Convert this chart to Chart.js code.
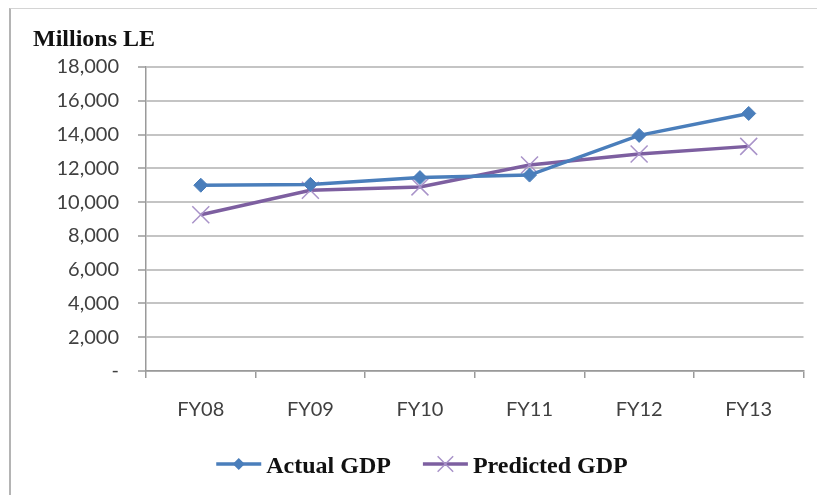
<!DOCTYPE html>
<html>
<head>
<meta charset="utf-8">
<title>Actual vs Predicted GDP</title>
<script src="https://cdn.jsdelivr.net/npm/chart.js@4/dist/chart.umd.min.js"></script>
<style>
  html, body { margin: 0; padding: 0; background: #fff; }
  #wrap { position: relative; width: 817px; height: 495px; overflow: hidden; }
  #frame {
    position: absolute; left: 9px; top: 8px; width: 900px; height: 600px;
    border-left: 2px solid #b4b4b4; border-top: 1px solid #d4d4d4;
  }
  canvas { position: absolute; left: 0; top: 0; }
</style>
</head>
<body>
<div id="wrap">
  <div id="frame"></div>
  <canvas id="gdpChart" width="817" height="495"></canvas>
</div>
<script>
const years = ["FY08", "FY09", "FY10", "FY11", "FY12", "FY13"];
const actualGdp = [11000, 11050, 11450, 11600, 13950, 15250];
const predictedGdp = [9250, 10700, 10900, 12200, 12850, 13300];
const yTicks = [0, 2000, 4000, 6000, 8000, 10000, 12000, 14000, 16000, 18000];
const unitLabel = "Millions LE";

const BLUE = "#4a7ebb";
const PURPLE = "#7d5fa0";
const CROSS = "#a993c9";
const TICK_FONT = { family: "Lato, 'Open Sans', sans-serif", size: 20 };
const SERIF = "bold 24px 'Liberation Serif', 'Times New Roman', serif";

function fmtTick(v) {
  return v === 0 ? "-" : v.toLocaleString("en-US");
}

function drawMarker(ctx, style, x, y, r, color, width) {
  ctx.save();
  ctx.strokeStyle = color;
  ctx.fillStyle = color;
  ctx.lineWidth = width;
  ctx.beginPath();
  if (style === "rectRot") {
    ctx.moveTo(x, y - r);
    ctx.lineTo(x + r, y);
    ctx.lineTo(x, y + r);
    ctx.lineTo(x - r, y);
    ctx.closePath();
    ctx.fill();
  } else {
    const d = r * Math.SQRT1_2;
    ctx.moveTo(x - d, y - d); ctx.lineTo(x + d, y + d);
    ctx.moveTo(x + d, y - d); ctx.lineTo(x - d, y + d);
    ctx.stroke();
  }
  ctx.restore();
}

// unit caption and an Excel-style legend (line + marker + label)
const decorations = {
  id: "decorations",
  afterDraw(chart) {
    const ctx = chart.ctx;
    ctx.save();
    ctx.font = SERIF;
    ctx.fillStyle = "#111";
    ctx.textBaseline = "alphabetic";
    ctx.fillText(unitLabel, 33, 46);

    const swatch = 45, gap = 5, itemGap = 32, lineY = 464, textY = 473;
    const items = chart.data.datasets.map(ds => ({
      ds, w: swatch + gap + ctx.measureText(ds.label).width
    }));
    const total = items.reduce((s, it) => s + it.w, 0) + itemGap * (items.length - 1);
    let x = 422 - total / 2;
    items.forEach(({ ds, w }) => {
      ctx.strokeStyle = ds.borderColor;
      ctx.lineWidth = ds.borderWidth;
      ctx.beginPath();
      ctx.moveTo(x, lineY);
      ctx.lineTo(x + swatch, lineY);
      ctx.stroke();
      const isDiamond = ds.pointStyle === "rectRot";
      drawMarker(ctx, ds.pointStyle, x + swatch / 2, lineY,
        isDiamond ? 6 : 11, ds.pointBorderColor, ds.pointBorderWidth);
      ctx.fillStyle = "#111";
      ctx.fillText(ds.label, x + swatch + gap, textY);
      x += w + itemGap;
    });
    ctx.restore();
  }
};

new Chart(document.getElementById("gdpChart"), {
  type: "line",
  data: {
    labels: years,
    datasets: [
      {
        label: "Actual GDP",
        data: actualGdp,
        borderColor: BLUE,
        backgroundColor: BLUE,
        borderWidth: 3.5,
        pointStyle: "rectRot",
        pointRadius: 7,
        pointBorderColor: BLUE,
        pointBackgroundColor: BLUE,
        pointBorderWidth: 1,
        tension: 0
      },
      {
        label: "Predicted GDP",
        data: predictedGdp,
        borderColor: PURPLE,
        backgroundColor: PURPLE,
        borderWidth: 3.5,
        pointStyle: "crossRot",
        pointRadius: 12,
        pointBorderColor: CROSS,
        pointBorderWidth: 1.5,
        tension: 0
      }
    ]
  },
  options: {
    responsive: false,
    animation: false,
    devicePixelRatio: 1,
    layout: { padding: { top: 67, right: 13, bottom: 0, left: 0 } },
    plugins: {
      legend: { display: false },
      title: { display: false },
      tooltip: { enabled: false }
    },
    scales: {
      x: {
        offset: true,
        afterFit(scale) { scale.height = 124; },
        grid: {
          offset: true,
          drawOnChartArea: false,
          drawTicks: true,
          tickLength: 7,
          color: "#9a9a9a",
          lineWidth: 1.5
        },
        border: { color: "#9a9a9a", width: 1.5 },
        ticks: { color: "#404040", font: TICK_FONT, padding: 20, maxRotation: 0 }
      },
      y: {
        min: 0,
        max: 18000,
        afterFit(scale) { scale.width = 146; },
        afterBuildTicks(scale) { scale.ticks = yTicks.map(v => ({ value: v })); },
        grid: {
          color: "#c4c4c4",
          lineWidth: 2,
          tickLength: 8,
          tickColor: "#9a9a9a",
          tickWidth: 1.5
        },
        border: { color: "#9a9a9a", width: 1.5 },
        ticks: {
          color: "#404040",
          font: TICK_FONT,
          padding: 19,
          callback: v => fmtTick(v)
        }
      }
    }
  },
  plugins: [decorations]
});
</script>
</body>
</html>
